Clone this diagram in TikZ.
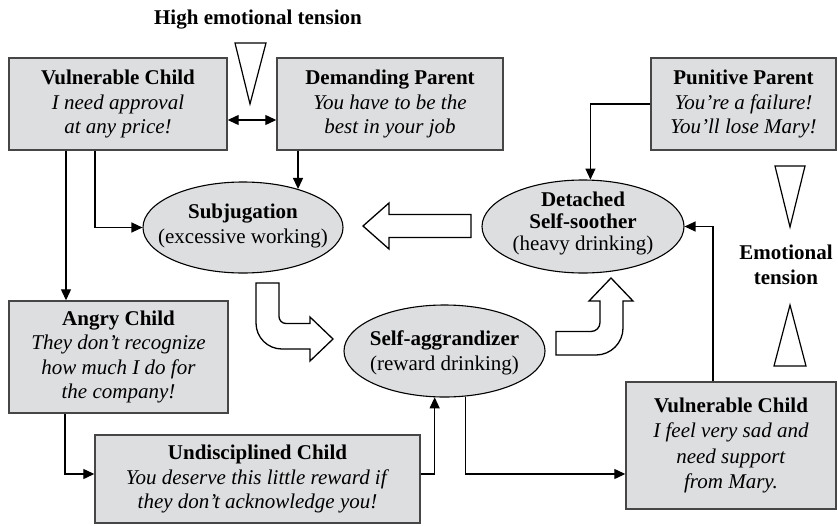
\documentclass[tikz,border=0pt]{standalone}
\usepackage{fontspec}
\setmainfont{Liberation Serif}
\usetikzlibrary{arrows.meta,shapes.geometric}
\definecolor{boxfill}{RGB}{221,222,224}
\definecolor{boxline}{RGB}{70,70,70}

\begin{document}
\begin{tikzpicture}[x=1pt,y=-1pt,
  base/.style={font=\fontsize{21}{24.5}\selectfont, align=center, inner sep=0pt},
  box/.style={base, rectangle, draw=boxline, fill=boxfill, line width=1.4pt},
  oval/.style={ellipse, draw=black, fill=boxfill, line width=1.1pt, inner sep=0pt},
  lbl/.style={font=\fontsize{21}{24.5}\selectfont\bfseries, align=center, inner sep=0pt},
  conn/.style={line width=1.2pt, -{Triangle[length=11pt,width=10pt]}},
  hollow/.style={draw=black, fill=white, line width=1.3pt, line join=miter},
  wedge/.style={draw=black, fill=white, line width=1.2pt}
]
\useasboundingbox (0,0) rectangle (838,525);

% ---- schema mode boxes ----
\node[box, minimum width=218pt, minimum height=92pt] (vc1) at (118,104)
  {\textbf{Vulnerable Child}\\ \textit{I need approval}\\ \textit{at any price!}};
\node[box, minimum width=226pt, minimum height=92pt] (dp) at (390,104)
  {\textbf{Demanding Parent}\\ \textit{You have to be the}\\ \textit{best in your job}};
\node[box, minimum width=185pt, minimum height=92pt] (pp) at (743.5,104)
  {\textbf{Punitive Parent}\\ \textit{You're a failure!}\\ \textit{You'll lose Mary!}};
\node[box, minimum width=219pt, minimum height=112pt] (ang) at (118.5,357)
  {\textbf{Angry Child}\\ \textit{They don't recognize}\\ \textit{how much I do for}\\ \textit{the company!}};
\node[box, minimum width=325pt, minimum height=88pt] (und) at (257.5,479)
  {\textbf{Undisciplined Child}\\ \textit{You deserve this little reward if}\\ \textit{they don't acknowledge you!}};
\node[box, minimum width=210pt, minimum height=127pt,
      font=\fontsize{21}{25.5}\selectfont] (vc2) at (731,445.5)
  {\textbf{Vulnerable Child}\\ \textit{I feel very sad and}\\ \textit{need support}\\ \textit{from Mary.}};

% ---- coping modes ----
\node[oval, minimum width=200pt, minimum height=91pt] (sub) at (243,227.5) {};
\node[base, font=\fontsize{21}{25}\selectfont] (subtxt) at (243,225.5)
  {\textbf{Subjugation}\\ (excessive working)};
\node[oval, minimum width=202pt, minimum height=93pt] (det) at (583,226.5) {};
\node[base, font=\fontsize{21}{22}\selectfont] (dettxt) at (583,223)
  {\textbf{Detached}\\ \textbf{Self-soother}\\ (heavy drinking)};
\node[oval, minimum width=201pt, minimum height=92pt] (sa) at (444.5,351) {};
\node[base, font=\fontsize{21}{25.5}\selectfont] (satxt) at (444.5,353)
  {\textbf{Self-aggrandizer}\\ (reward drinking)};

% ---- tension labels and wedges ----
\node[lbl] (hi) at (258,20) {High emotional tension};
\node[lbl] (et) at (786,265) {Emotional\\tension};
\draw[wedge] (235,43) -- (266,43) -- (250,104) -- cycle;
\draw[wedge] (775,166) -- (805,166) -- (790,227) -- cycle;
\draw[wedge] (790,305) -- (806,366) -- (774,366) -- cycle;

% ---- connectors ----
\draw[line width=1.2pt, {Triangle[length=11pt,width=10pt]}-{Triangle[length=11pt,width=10pt]}]
  ([yshift=-16pt]vc1.east) -- ([yshift=-16pt]dp.west);
\draw[conn] ([xshift=-52pt]vc1.south) -- ([xshift=-52pt]vc1.south |- ang.north);
\draw[conn] ([xshift=-23pt]vc1.south) |- (sub.west);
\draw[conn] (sub.35.3 |- dp.south) -- (sub.35.3);
\draw[conn] (pp.west) -| (det.81.4);
\draw[conn] ([xshift=-53.5pt]ang.south) |- ([yshift=5pt]und.west);
\draw[conn] ([yshift=5pt]und.east) -| (sa.258.3);
\draw[conn] (sa.295.5) |- ([yshift=-28.5pt]vc2.west);
\draw[conn] ([xshift=-18pt]vc2.north) |- (det.east);

% ---- hollow block arrows of the coping cycle ----
% detached self-soother back to subjugation
\draw[hollow] (363,226) -- (389,203) -- (389,214.5) -- (471,214.5)
  -- (471,237.5) -- (389,237.5) -- (389,249) -- cycle;
% subjugation down and over to the self-aggrandizer
\draw[hollow] (256,283) -- (256,323)
  .. controls (256,337.4) and (267.6,349) .. (282,349)
  -- (310,349) -- (310,361) -- (333,339) -- (310,317) -- (310,323.5)
  -- (286,323.5) .. controls (282.1,323.5) and (279,320.4) .. (279,316.5)
  -- (279,283) -- cycle;
% self-aggrandizer over and up to the detached self-soother
\draw[hollow] (556,331.5) -- (591,331.5)
  .. controls (596,331.5) and (600,327.5) .. (600,322.5)
  -- (600,301) -- (589,301) -- (611,278) -- (633,301) -- (623,301)
  -- (623,328) .. controls (623,342.9) and (610.9,355) .. (596,355)
  -- (556,355) -- cycle;
\end{tikzpicture}
\end{document}
